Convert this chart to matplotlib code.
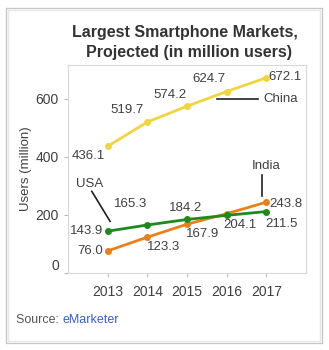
import matplotlib.pyplot as plt
from matplotlib.patches import Rectangle

plt.rcParams['font.family'] = ['Liberation Sans', 'DejaVu Sans']

years = [2013, 2014, 2015, 2016, 2017]
china = [436.1, 519.7, 574.2, 624.7, 672.1]
usa = [143.9, 165.3, 184.2, 198.5, 211.5]
india = [76.0, 123.3, 167.9, 204.1, 243.8]
yticks = [0, 200, 400, 600]

# label offsets in pixels (dx, dy, ha); None = no label
china_off = [(-19, -10, 'center'), (-20, 12, 'center'), (-17, 11, 'center'),
             (-18, 13, 'center'), (2, 1, 'left')]
usa_off = [(-4, 0, 'right'), (-17, 21, 'center'), (-1, 11, 'center'),
           None, (15, -12, 'center')]
india_off = [(-17, 0, 'center'), (16, -10, 'center'), (16, -10, 'center'),
             (13, -11, 'center'), (3, -2, 'left')]

c_china = '#F0D440'
c_usa = '#1E8A1E'
c_india = '#E8801E'
txt = '#404040'

fig = plt.figure(figsize=(3.29, 3.5), dpi=100)
W, H = 329, 350

# outer frame
fig.patches.append(Rectangle((6 / W, 1 - 343 / H), 316 / W, 335 / H, transform=fig.transFigure,
                             fill=False, edgecolor='#c8c8c8', lw=1.0))
fig.patches.append(Rectangle((8 / W, 1 - 341 / H), 312 / W, 331 / H, transform=fig.transFigure,
                             fill=False, edgecolor='#e8e8e8', lw=1.0))

ax = fig.add_axes([68 / W, 1 - 273 / H, 238 / W, 208 / H])

ax.plot(years, china, color=c_china, lw=2, marker='o', ms=4, zorder=3)
ax.plot(years, india, color=c_india, lw=2, marker='o', ms=4, zorder=3)
ax.plot(years, usa, color=c_usa, lw=2, marker='o', ms=4, zorder=4)

for vals, offs in [(china, china_off), (usa, usa_off), (india, india_off)]:
    for x, v, o in zip(years, vals, offs):
        if o is None:
            continue
        ax.annotate(f'{v:.1f}', (x, v), xytext=(o[0], o[1]), textcoords='offset pixels',
                    ha=o[2], va='center', fontsize=9.5, color=txt, zorder=5)

# series labels
ax.plot([0.626, 0.798], [0.837, 0.837], transform=ax.transAxes, color='#202020', lw=1.2)
ax.text(0.819, 0.837, 'China', transform=ax.transAxes, ha='left', va='center',
        fontsize=9.5, color=txt)
ax.plot([2012.6, 2013.06], [281, 178], color='#202020', lw=1.2)
ax.text(2012.55, 305, 'USA', ha='center', va='center', fontsize=9.5, color=txt)
ax.plot([2016.88, 2016.88], [339, 264], color='#202020', lw=1.2)
ax.text(2017.0, 367, 'India', ha='center', va='center', fontsize=9.5, color=txt)

ax.set_xlim(2012, 2018)
ax.set_ylim(0, 716)
ax.set_xticks(years)
ax.set_yticks(yticks)
ax.tick_params(colors='#bbbbbb', labelcolor=txt, length=3, labelsize=10)
ax.tick_params(axis='x', pad=6)
ax.get_yticklabels()[0].set_va('bottom')
for s in ax.spines.values():
    s.set_color('#d8d8d8')
ax.set_ylabel('Users (million)', fontsize=9.5, color=txt)
ax.yaxis.set_label_coords((32 - 68) / 238, 0.5)

fig.text(185 / W, 1 - 33 / H, 'Largest Smartphone Markets,', ha='center', va='center',
         fontsize=11.5, fontweight='bold', color='#333333')
fig.text(189 / W, 1 - 52 / H, 'Projected (in million users)', ha='center', va='center',
         fontsize=11.5, fontweight='bold', color='#333333')

t = fig.text(16 / W, 1 - 320 / H, 'Source: ', ha='left', va='center', fontsize=9, color='#555555')
fig.canvas.draw()
bb = t.get_window_extent()
fig.text(bb.x1 / W, 1 - 320 / H, 'eMarketer', ha='left', va='center', fontsize=9,
         color='#3a5fc8')

fig.savefig('out.png', dpi=100)
